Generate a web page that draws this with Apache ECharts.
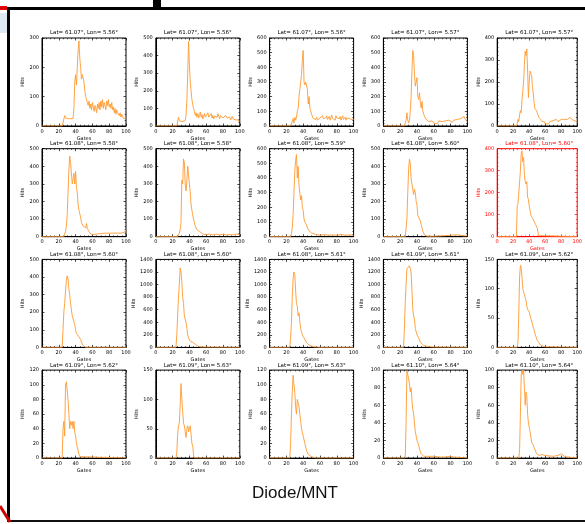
<!DOCTYPE html>
<html>
<head>
<meta charset="utf-8">
<script src="https://cdn.jsdelivr.net/npm/echarts@6/dist/echarts.min.js"></script>
<style>
  html, body { margin: 0; padding: 0; background: #fff; }
  #chart { width: 585px; height: 524px; }
</style>
</head>
<body>
<div id="chart"></div>
<script>
// gate histograms, one array of [gate, hits] per panel (row, col)
var p11 = [[0,0],[24,0],[26,5],[27,35],[28,40],[29,25],[31,20],[33,25],[35,20],[37,25],[38,60],[39,150],[40,175],[41,140],[42,200],[43,260],[44,290],[45,230],[46,200],[47,160],[48,175],[49,170],[50,150],[51,120],[52,100],[53,95],[54,80],[55,70],[56,85],[57,60],[58,75],[59,55],[60,80],[61,65],[62,50],[63,70],[64,60],[65,45],[66,75],[67,60],[68,80],[69,55],[70,85],[71,65],[72,90],[73,60],[74,80],[75,70],[76,55],[77,85],[78,70],[79,90],[80,65],[81,75],[82,60],[83,80],[84,55],[85,65],[86,45],[87,60],[88,40],[89,55],[90,45],[91,50],[92,35],[93,45],[94,30],[95,40],[96,35],[97,25],[98,30],[99,20],[100,28]];
var p12 = [[0,0],[25,0],[26,10],[27,50],[28,30],[29,20],[31,25],[33,20],[35,30],[36,60],[37,150],[38,300],[39,480],[40,350],[41,250],[42,200],[43,150],[44,120],[45,100],[46,80],[47,60],[48,75],[49,50],[50,70],[51,45],[52,60],[53,80],[54,50],[55,65],[56,40],[57,55],[58,70],[59,50],[60,45],[61,60],[62,75],[63,50],[64,40],[65,55],[66,70],[67,45],[68,60],[69,40],[70,55],[71,65],[72,45],[73,50],[74,70],[75,55],[76,40],[77,60],[78,50],[79,65],[80,45],[81,55],[82,40],[83,60],[84,50],[85,45],[86,55],[87,40],[88,50],[89,35],[90,45],[91,55],[92,40],[93,30],[94,45],[95,35],[96,40],[97,30],[98,35],[99,25],[100,30]];
var p13 = [[0,0],[25,0],[26,10],[27,30],[28,50],[29,20],[30,60],[31,40],[32,60],[33,100],[34,120],[35,200],[36,250],[37,300],[38,350],[39,450],[40,515],[41,300],[42,280],[43,300],[44,290],[45,250],[46,150],[47,200],[48,120],[49,100],[50,80],[51,70],[52,50],[53,40],[54,55],[55,45],[56,60],[57,40],[58,50],[59,35],[60,55],[61,60],[62,45],[63,70],[64,50],[65,40],[66,60],[67,55],[68,70],[69,45],[70,50],[71,65],[72,40],[73,55],[74,75],[75,50],[76,45],[77,60],[78,40],[79,70],[80,55],[81,45],[82,60],[83,50],[84,65],[85,40],[86,55],[87,70],[88,45],[89,50],[90,60],[91,40],[92,55],[93,45],[94,60],[95,50],[96,40],[97,55],[98,45],[99,50],[100,45]];
var p14 = [[0,0],[25,0],[26,10],[27,40],[28,90],[29,40],[30,20],[31,40],[32,100],[33,200],[34,380],[35,515],[36,480],[37,350],[38,272],[39,300],[40,330],[41,203],[42,180],[43,226],[44,160],[45,122],[46,168],[47,100],[48,80],[49,65],[50,50],[51,45],[52,42],[54,30],[56,20],[58,35],[60,20],[62,30],[64,15],[66,35],[68,25],[70,30],[72,20],[74,35],[76,25],[78,40],[80,30],[82,25],[84,40],[86,30],[88,45],[90,35],[92,50],[94,40],[96,65],[98,40],[100,30]];
var p15 = [[0,0],[24,0],[25,10],[26,30],[27,20],[28,50],[29,70],[30,60],[31,120],[32,160],[33,200],[34,280],[35,340],[36,320],[37,350],[38,250],[39,130],[40,200],[41,250],[42,240],[43,230],[44,180],[45,150],[46,110],[47,80],[48,75],[49,70],[50,60],[51,50],[52,40],[53,45],[54,30],[55,35],[56,20],[57,25],[58,15],[59,20],[60,10],[62,15],[64,10],[66,20],[68,15],[70,25],[72,20],[74,30],[76,20],[78,25],[80,30],[82,25],[84,30],[86,35],[88,30],[90,25],[91,40],[92,45],[93,30],[94,35],[96,25],[98,30],[100,20]];
var p21 = [[0,0],[26,0],[27,10],[28,30],[29,60],[30,120],[31,250],[32,380],[33,458],[34,420],[35,430],[36,300],[37,330],[38,360],[39,300],[40,370],[41,280],[42,250],[43,180],[44,150],[45,130],[46,110],[47,80],[48,70],[49,60],[50,55],[51,65],[52,50],[53,75],[54,45],[55,40],[56,30],[57,20],[58,15],[60,10],[62,12],[64,10],[66,15],[68,20],[70,18],[72,25],[74,20],[76,30],[78,20],[80,25],[82,20],[84,30],[86,20],[88,25],[90,20],[92,25],[94,20],[96,30],[98,25],[100,40]];
var p22 = [[0,0],[26,0],[27,10],[28,20],[29,40],[30,80],[31,320],[32,300],[33,442],[34,420],[35,300],[36,260],[37,320],[38,400],[39,350],[40,300],[41,250],[42,180],[43,150],[44,120],[45,100],[46,80],[47,60],[48,50],[49,40],[50,35],[52,30],[54,20],[56,15],[58,20],[60,12],[64,15],[68,10],[72,15],[76,10],[80,15],[84,10],[88,12],[92,10],[96,15],[100,10]];
var p23 = [[0,0],[25,0],[26,20],[27,60],[28,150],[29,300],[30,450],[31,520],[32,560],[33,400],[34,480],[35,350],[36,300],[37,250],[38,280],[39,200],[40,180],[41,120],[42,100],[43,90],[44,80],[45,60],[46,50],[47,40],[48,30],[50,25],[52,20],[55,15],[60,10],[65,15],[70,10],[75,12],[80,10],[85,15],[90,10],[95,12],[100,10]];
var p24 = [[0,0],[26,0],[27,10],[28,100],[29,250],[30,380],[31,440],[32,420],[33,330],[34,300],[35,290],[36,240],[37,270],[38,250],[39,200],[40,180],[41,120],[42,110],[43,130],[44,90],[45,70],[46,50],[47,30],[48,20],[49,10],[50,5],[52,3],[60,3],[70,5],[80,8],[84,10],[86,8],[90,10],[95,5],[100,5]];
var p25 = [[0,0],[24,0],[25,140],[26,150],[27,200],[28,250],[29,300],[30,380],[31,390],[32,340],[33,360],[34,280],[35,250],[36,240],[37,250],[38,180],[39,170],[40,140],[41,120],[42,100],[43,90],[44,85],[45,80],[46,70],[47,75],[48,55],[49,60],[50,40],[51,20],[52,5],[53,0],[100,0]];
var p31 = [[0,0],[24,0],[25,100],[26,200],[27,250],[28,320],[29,380],[30,407],[31,390],[32,330],[33,300],[34,250],[35,240],[36,180],[37,175],[38,170],[39,130],[40,100],[41,80],[42,70],[43,75],[44,60],[45,50],[46,45],[47,30],[48,20],[49,10],[50,3],[52,0],[100,0]];
var p32 = [[0,0],[24,0],[25,200],[26,500],[27,800],[28,1000],[29,1264],[30,1200],[31,1050],[32,800],[33,700],[34,500],[35,450],[36,400],[37,300],[38,200],[39,150],[40,120],[41,100],[42,110],[43,90],[44,80],[45,70],[46,60],[47,50],[48,40],[50,20],[52,10],[54,5],[56,0],[100,0]];
var p33 = [[0,0],[24,0],[25,150],[26,400],[27,800],[28,1100],[29,1200],[30,1150],[31,900],[32,700],[33,650],[34,500],[35,550],[36,400],[37,300],[38,250],[39,200],[40,180],[41,150],[42,120],[43,100],[44,80],[45,60],[46,50],[48,30],[50,20],[52,10],[55,5],[60,0],[100,0]];
var p34 = [[0,0],[24,0],[25,300],[26,700],[27,1000],[28,1250],[29,1280],[30,1250],[31,1300],[32,1250],[33,1200],[34,900],[35,600],[36,500],[37,450],[38,300],[39,250],[40,200],[41,180],[42,150],[43,120],[44,80],[45,60],[46,50],[48,30],[50,20],[55,10],[60,5],[100,0]];
var p35 = [[0,0],[25,0],[26,10],[27,60],[28,120],[29,140],[30,135],[31,120],[32,100],[33,95],[34,90],[35,85],[36,80],[37,70],[38,65],[40,60],[42,50],[44,40],[46,30],[48,20],[50,12],[52,8],[55,3],[60,1],[100,0]];
var p41 = [[0,0],[24,0],[25,40],[26,50],[27,30],[28,100],[29,104],[30,104],[31,80],[32,60],[33,40],[34,50],[35,45],[36,50],[37,40],[38,50],[39,35],[40,30],[41,20],[42,15],[43,10],[44,5],[45,2],[46,0],[100,0]];
var p42 = [[0,0],[24,0],[25,10],[26,40],[27,55],[28,60],[29,90],[30,127],[31,100],[32,80],[33,60],[34,55],[35,45],[36,35],[37,50],[38,55],[39,45],[40,50],[41,55],[42,40],[43,25],[44,20],[45,5],[46,0],[100,0]];
var p43 = [[0,0],[24,0],[25,20],[26,60],[27,90],[28,113],[29,100],[30,90],[31,70],[32,60],[33,80],[34,75],[35,70],[36,60],[37,50],[38,40],[39,35],[40,30],[42,20],[44,10],[46,5],[50,2],[55,0],[100,0]];
var p44 = [[0,0],[26,0],[27,40],[28,99],[29,95],[30,90],[31,85],[32,75],[33,80],[34,65],[35,55],[36,50],[37,40],[38,30],[39,25],[40,20],[41,18],[42,15],[43,10],[44,8],[45,5],[46,3],[48,2],[50,3],[55,2],[60,2],[70,1],[80,2],[85,1],[90,1],[100,0]];
var p45 = [[0,0],[27,0],[28,10],[29,50],[30,95],[31,100],[32,95],[33,100],[34,80],[35,60],[36,75],[37,70],[38,50],[39,40],[40,35],[41,30],[42,25],[43,18],[44,20],[45,15],[46,12],[47,10],[48,8],[49,5],[52,3],[56,4],[60,3],[70,2],[76,3],[80,5],[84,2],[90,1],[100,0]];

var panels = [p11,p12,p13,p14,p15, p21,p22,p23,p24,p25, p31,p32,p33,p34,p35, p41,p42,p43,p44,p45];

var titles = [
  'Lat= 61.07°, Lon= 5.56°','Lat= 61.07°, Lon= 5.56°','Lat= 61.07°, Lon= 5.56°','Lat= 61.07°, Lon= 5.57°','Lat= 61.07°, Lon= 5.57°',
  'Lat= 61.08°, Lon= 5.58°','Lat= 61.08°, Lon= 5.58°','Lat= 61.08°, Lon= 5.59°','Lat= 61.08°, Lon= 5.60°','Lat= 61.08°, Lon= 5.60°',
  'Lat= 61.08°, Lon= 5.60°','Lat= 61.08°, Lon= 5.60°','Lat= 61.08°, Lon= 5.61°','Lat= 61.09°, Lon= 5.61°','Lat= 61.09°, Lon= 5.62°',
  'Lat= 61.09°, Lon= 5.62°','Lat= 61.09°, Lon= 5.63°','Lat= 61.09°, Lon= 5.63°','Lat= 61.10°, Lon= 5.64°','Lat= 61.10°, Lon= 5.64°'
];
var yMax  = [300,500,600,600,400, 500,500,600,500,400, 500,1400,1400,1400,150, 120,150,120,100,100];
var yStep = [100,100,100,100,100, 100,100,100,100,100, 100,200,200,200,50, 20,50,20,20,20];
var gateMin = 0, gateMax = 100, gateStep = 20;
var redPanel = 9;
var bottomLabel = 'Diode/MNT';

var x0 = 42, dx = 113.8, y0 = 38, dy = 110.7, gw = 84, gh = 88;
var lineColor = '#ff9a30';

function ticks(ink) {
  return { show: true, inside: true, length: 2.5, lineStyle: { color: ink, width: 0.7 } };
}
function minor(ink, n) {
  return { show: true, splitNumber: n, length: 1.3, lineStyle: { color: ink, width: 0.6 } };
}
function plain(v) { return String(v); }

function buildOption(withTwins) {
  var grids = [], xAxes = [], yAxes = [], series = [], titleList = [];
  for (var i = 0; i < panels.length; i++) {
    var r = Math.floor(i / 5), c = i % 5;
    var left = x0 + c * dx, top = y0 + r * dy;
    var ink = (i === redPanel) ? '#ff0000' : '#000';
    grids.push({ left: left, top: top, width: gw, height: gh, show: true, borderColor: ink, borderWidth: 1 });

    xAxes.push({
      type: 'value', gridIndex: i, min: gateMin, max: gateMax, interval: gateStep,
      name: 'Gates', nameLocation: 'middle', nameGap: 10,
      nameTextStyle: { fontSize: 5, color: ink, fontFamily: 'DejaVu Sans' },
      axisLine: { show: true, onZero: false, lineStyle: { color: ink, width: 1 } },
      axisTick: ticks(ink), minorTick: minor(ink, 4),
      axisLabel: { fontSize: 5, color: ink, margin: 3, fontFamily: 'DejaVu Sans', formatter: plain },
      splitLine: { show: false }
    });
    yAxes.push({
      type: 'value', gridIndex: i, min: 0, max: yMax[i], interval: yStep[i],
      name: 'Hits', nameLocation: 'middle', nameGap: yMax[i] >= 1000 ? 16 : 13,
      nameTextStyle: { fontSize: 5, color: ink, fontFamily: 'DejaVu Sans' },
      axisLine: { show: true, onZero: false, lineStyle: { color: ink, width: 1 } },
      axisTick: ticks(ink), minorTick: minor(ink, 5),
      axisLabel: { fontSize: 5, color: ink, margin: 3, fontFamily: 'DejaVu Sans', formatter: plain },
      splitLine: { show: false }
    });
    series.push({
      type: 'line', xAxisIndex: i, yAxisIndex: i, data: panels[i],
      showSymbol: false, symbol: 'none', silent: true,
      lineStyle: { color: lineColor, width: 0.9 }
    });
    titleList.push({
      text: titles[i], left: left + gw / 2, top: top - 8, textAlign: 'center', padding: 0,
      textStyle: { fontSize: 5.5, fontWeight: 'normal', color: ink, fontFamily: 'DejaVu Sans' }
    });
  }
  if (withTwins) {
    // top / right twin axes so the ticks run round the whole box
    for (var j = 0; j < panels.length; j++) {
      var ink2 = (j === redPanel) ? '#ff0000' : '#000';
      xAxes.push({
        type: 'value', gridIndex: j, position: 'top', min: gateMin, max: gateMax, interval: gateStep,
        axisLine: { show: false, onZero: false }, axisTick: ticks(ink2), minorTick: minor(ink2, 4),
        axisLabel: { show: false }, splitLine: { show: false }
      });
      yAxes.push({
        type: 'value', gridIndex: j, position: 'right', min: 0, max: yMax[j], interval: yStep[j],
        axisLine: { show: false, onZero: false }, axisTick: ticks(ink2), minorTick: minor(ink2, 5),
        axisLabel: { show: false }, splitLine: { show: false }
      });
    }
  }
  titleList.push({
    text: bottomLabel, left: 295, top: 485, textAlign: 'center', padding: 0,
    textStyle: { fontSize: 17, fontWeight: 'normal', color: '#111', fontFamily: 'Liberation Sans' }
  });
  return {
    animation: false,
    backgroundColor: '#fff',
    title: titleList,
    grid: grids,
    xAxis: xAxes,
    yAxis: yAxes,
    series: series,
    graphic: [
      { type: 'rect', shape: { x: 7, y: 7, width: 3, height: 515 }, style: { fill: '#000' } },
      { type: 'rect', shape: { x: 7, y: 7, width: 578, height: 3 }, style: { fill: '#000' } },
      { type: 'rect', shape: { x: 7, y: 520, width: 578, height: 2 }, style: { fill: '#111' } },
      { type: 'rect', shape: { x: 0, y: 6, width: 7, height: 4 }, style: { fill: '#e00000' } },
      { type: 'line', shape: { x1: 0, y1: 506, x2: 10, y2: 522 }, style: { stroke: '#d00000', lineWidth: 3 } },
      { type: 'rect', shape: { x: 153, y: 0, width: 8, height: 7 }, style: { fill: '#000' } },
      { type: 'rect', shape: { x: 0, y: 13, width: 7, height: 20 }, style: { fill: '#dce9f2' } }
    ]
  };
}

var dom = document.getElementById('chart');
var chart = echarts.init(dom);
try {
  chart.setOption(buildOption(true));
} catch (e) {
  console.error('twin axes failed: ' + e.message);
  chart.dispose();
  chart = echarts.init(dom);
  chart.setOption(buildOption(false));
}
</script>
</body>
</html>
